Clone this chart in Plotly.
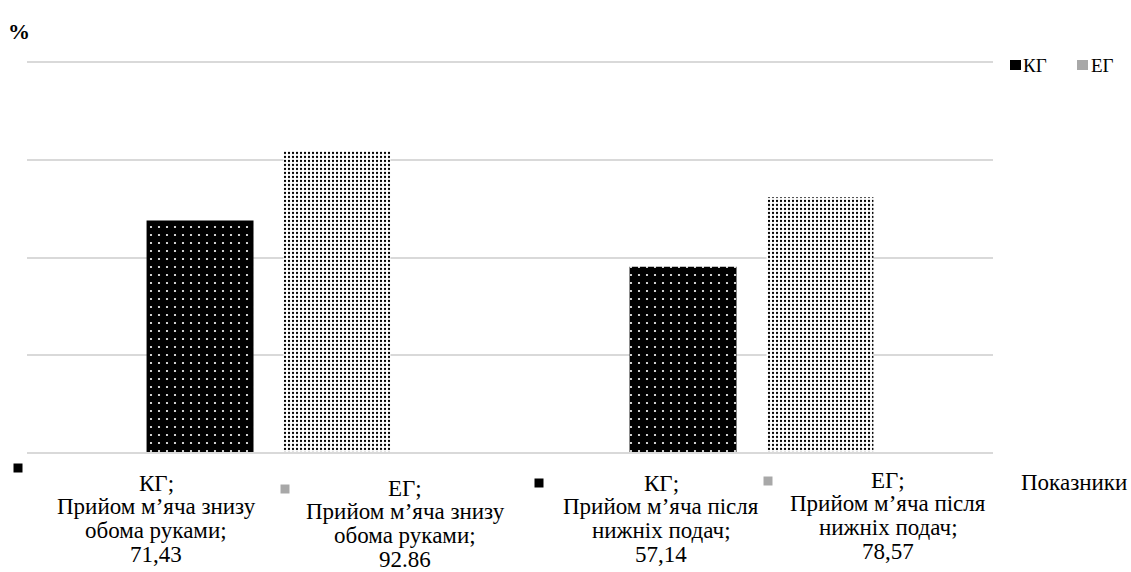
import plotly.graph_objects as go

# Data
categories = ["Прийом м’яча знизу<br>обома руками", "Прийом м’яча після<br>нижніх подач"]
groups = ["КГ", "ЕГ"]
kg_values = [71.43, 57.14]
eg_values = [92.86, 78.57]
# decimal separator used in each printed value (КГ1, ЕГ1, КГ2, ЕГ2)
label_separators = [",", ".", ",", ","]

y_ticks = [0, 30, 60, 90, 120]

FONT = '"Liberation Serif", "Times New Roman", serif'

fig = go.Figure()
fig.add_trace(go.Bar(
    x=categories, y=kg_values, name=groups[0],
    marker=dict(color="black", line=dict(width=0),
                pattern=dict(shape=".", fgcolor="white", bgcolor="black",
                             size=8, solidity=0.06, fillmode="replace")),
    showlegend=False,
))
fig.add_trace(go.Bar(
    x=categories, y=eg_values, name=groups[1],
    marker=dict(color="white", line=dict(width=0),
                pattern=dict(shape=".", fgcolor="black", bgcolor="white",
                             size=4, solidity=0.25, fillmode="replace")),
    showlegend=False,
))

# Pixel <-> paper helpers
W, H = 1131, 572
L, R, T, B = 27, 138, 63, 120
pw, ph = W - L - R, H - T - B

def px_x(p):
    return (p - L) / pw

def px_y(p):
    return (H - B - p) / ph

# Data labels below the category axis, one annotation per text line
label_specs = [
    # (group idx, category idx, centre x px, first line centre y px, key x px, key y px)
    (0, 0, 156, 483, 18, 468),
    (1, 0, 405, 488, 285, 489),
    (0, 1, 661, 483, 539, 483),
    (1, 1, 888, 480, 768, 481),
]
LINE_STEP = 23.7
series = [kg_values, eg_values]
annotations = []
shapes = []
for i, (g, c, cx, y0, kx, ky) in enumerate(label_specs):
    v = series[g][c]
    vtxt = f"{v:.2f}".replace(".", label_separators[i])
    lines = [f"{groups[g]};"] + categories[c].split("<br>")
    lines[-1] += ";"
    lines.append(vtxt)
    for j, line in enumerate(lines):
        annotations.append(dict(
            x=px_x(cx), y=px_y(y0 + j * LINE_STEP), xref="paper", yref="paper",
            xanchor="center", yanchor="middle", text=line, showarrow=False,
            font=dict(family=FONT, size=23, color="black"),
        ))
    s = 4.5
    shapes.append(dict(
        type="rect", xref="paper", yref="paper",
        x0=px_x(kx - s), x1=px_x(kx + s), y0=px_y(ky + s), y1=px_y(ky - s),
        fillcolor="black" if g == 0 else "#a8a8a8", line=dict(width=0),
    ))

# Legend in the top-right corner
legend_items = [(0, 1015.5, 1021), (1, 1082.5, 1089)]
for g, kx, tx in legend_items:
    shapes.append(dict(
        type="rect", xref="paper", yref="paper",
        x0=px_x(kx - 5.5), x1=px_x(kx + 5.5), y0=px_y(70), y1=px_y(60),
        fillcolor="black" if g == 0 else "#a8a8a8", line=dict(width=0),
    ))
    annotations.append(dict(
        x=px_x(tx), y=px_y(65), xref="paper", yref="paper", xanchor="left", yanchor="middle",
        text=groups[g], showarrow=False, font=dict(family=FONT, size=19, color="black"),
    ))

# Axis titles
annotations.append(dict(
    x=px_x(6), y=px_y(31), xref="paper", yref="paper", xanchor="left", yanchor="middle",
    text="<b>%</b>", showarrow=False, font=dict(family=FONT, size=22, color="black"),
))
annotations.append(dict(
    x=px_x(1129), y=px_y(482), xref="paper", yref="paper", xanchor="right", yanchor="middle",
    text="Показники", showarrow=False, font=dict(family=FONT, size=23, color="black"),
))

fig.update_layout(
    width=W, height=H,
    margin=dict(l=L, r=R, t=T, b=B),
    paper_bgcolor="white", plot_bgcolor="white",
    barmode="group", bargap=0.433, bargroupgap=0.219,
    font=dict(family=FONT, size=16, color="black"),
    annotations=annotations, shapes=shapes,
    xaxis=dict(showticklabels=False, showgrid=False, zeroline=False, showline=True,
               linecolor="#d9d9d9", linewidth=1.5, mirror=True, ticks=""),
    yaxis=dict(range=[0, 120], tickvals=y_ticks, showticklabels=False, showgrid=True,
               gridcolor="#d9d9d9", gridwidth=1.5, zeroline=False, showline=False, ticks=""),
)

fig.write_html("out.html")
